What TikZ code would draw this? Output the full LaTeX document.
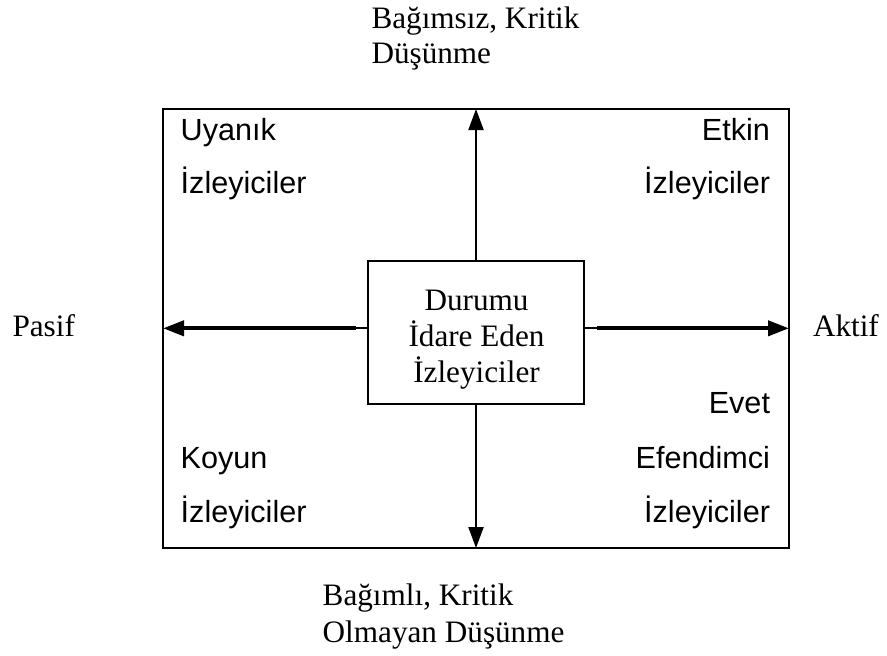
\documentclass[tikz,border=0pt]{standalone}
\usepackage{fontspec}
\setmainfont{Liberation Serif}
\newfontfamily\arialf{Liberation Sans}
\usetikzlibrary{arrows.meta}
\begin{document}
\begin{tikzpicture}[x=0.5pt,y=-0.5pt,
  serif/.style={inner sep=0pt, outer sep=0pt, font=\fontsize{15.6pt}{18pt}\selectfont},
  sans/.style={inner sep=0pt, outer sep=0pt, font=\arialf\fontsize{15.3pt}{18pt}\selectfont},
  outerbox/.style={draw, line width=1.3pt, inner sep=0pt, outer sep=0pt, minimum width=313pt, minimum height=219.5pt},
  centerbox/.style={draw, line width=1pt, inner sep=0pt, outer sep=0pt, minimum width=108pt, minimum height=71.5pt},
  thinarrow/.style={line width=1pt, -{Triangle[length=10.5pt,width=7.5pt]}},
  thickarrow/.style={line width=2pt, -{Triangle[length=10.5pt,width=7.5pt]}},
  thinline/.style={line width=1pt}
]
\useasboundingbox (0,0) rectangle (887,655);

\node[outerbox] (o) at (476,328.5) {};
\node[centerbox] (c) at (476,332.5) {};

% center text
\node[serif, anchor=base] (c1) at (476.5,310) {Durumu};
\node[serif, anchor=base] (c2) at (476.5,346.7) {İdare Eden};
\node[serif, anchor=base] (c3) at (476.5,382.7) {İzleyiciler};

% axis labels
\node[serif, anchor=base west] (top1) at (371.5,28.3) {Bağımsız, Kritik};
\node[serif, anchor=base west] (top2) at (371.5,63.3) {Düşünme};
\node[serif, anchor=base west] (bot1) at (322.7,605.7) {Bağımlı, Kritik};
\node[serif, anchor=base west] (bot2) at (322.7,642.5) {Olmayan Düşünme};
\node[serif, anchor=base west] (pasif) at (12.5,336.5) {Pasif};
\node[serif, anchor=base west] (aktif) at (813,336) {Aktif};

% quadrant labels
\node[sans, anchor=base west] (q1a) at (180.7,140) {Uyanık};
\node[sans, anchor=base west] (q1b) at (180.7,193) {İzleyiciler};
\node[sans, anchor=base east] (q2a) at (770,140) {Etkin};
\node[sans, anchor=base east] (q2b) at (770,193) {İzleyiciler};
\node[sans, anchor=base west] (q3a) at (180.7,468) {Koyun};
\node[sans, anchor=base west] (q3b) at (180.7,522) {İzleyiciler};
\node[sans, anchor=base east] (q4a) at (770,413.5) {Evet};
\node[sans, anchor=base east] (q4b) at (770,468) {Efendimci};
\node[sans, anchor=base east] (q4c) at (770,522) {İzleyiciler};

% arrows
\draw[thinarrow] (c.north) -- (o.north);
\draw[thinarrow] (c.south) -- (o.south);
\coordinate (ls) at (356,328.3);
\coordinate (rs) at (597,328.3);
\draw[thinline] (c.west |- ls) -- (ls);
\draw[thinline] (c.east |- rs) -- (rs);
\draw[thickarrow] (ls) -- (o.west |- ls);
\draw[thickarrow] (rs) -- (o.east |- rs);
\end{tikzpicture}
\end{document}
